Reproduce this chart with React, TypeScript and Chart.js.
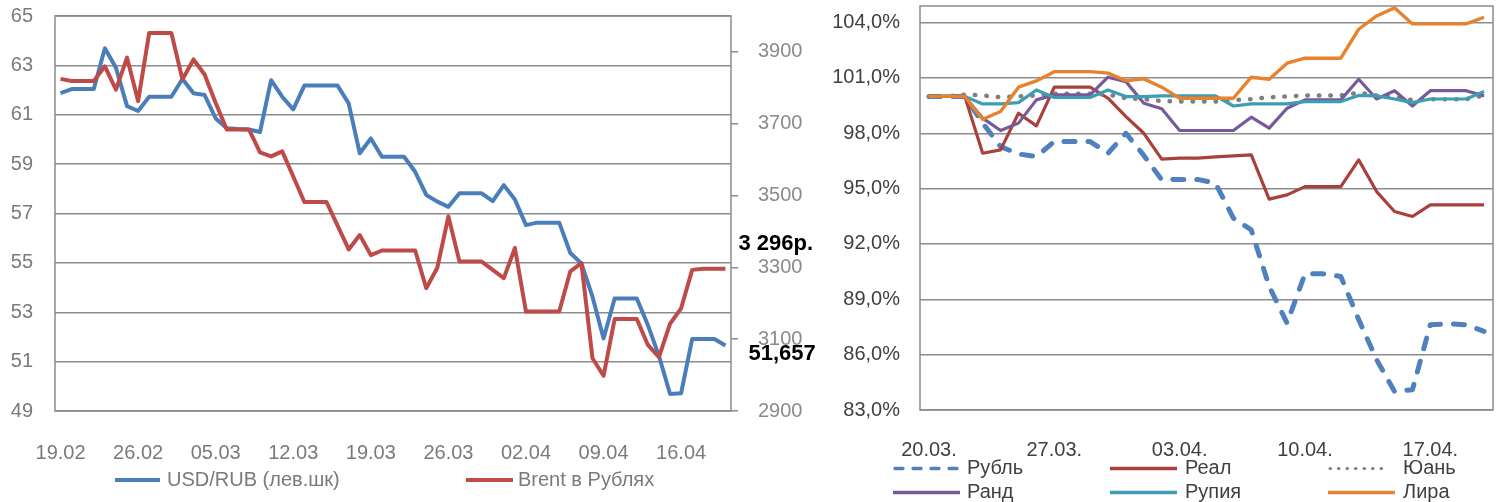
import React, { useEffect, useRef } from 'react';
import { Chart, registerables } from 'chart.js';

Chart.register(...registerables);

// ---------- Left chart data ----------
const leftDates = [
  '19.02', '20.02', '21.02', '22.02', '23.02', '24.02', '25.02', '26.02', '27.02', '28.02',
  '01.03', '02.03', '03.03', '04.03', '05.03', '06.03', '07.03', '08.03', '09.03', '10.03',
  '11.03', '12.03', '13.03', '14.03', '15.03', '16.03', '17.03', '18.03', '19.03', '20.03',
  '21.03', '22.03', '23.03', '24.03', '25.03', '26.03', '27.03', '28.03', '29.03', '30.03',
  '31.03', '01.04', '02.04', '03.04', '04.04', '05.04', '06.04', '07.04', '08.04', '09.04',
  '10.04', '11.04', '12.04', '13.04', '14.04', '15.04', '16.04', '17.04', '18.04', '19.04',
  '20.04',
];
const leftTickLabels = ['19.02', '26.02', '05.03', '12.03', '19.03', '26.03', '02.04', '09.04', '16.04'];
const usdRubTicks = [49, 51, 53, 55, 57, 59, 61, 63, 65];
const brentTicks = [2900, 3100, 3300, 3500, 3700, 3900];

const usdRub = [
  61.88, 62.04, 62.04, 62.04, 63.69, 62.9, 61.35, 61.15, 61.73, 61.73,
  61.73, 62.45, 61.87, 61.8, 60.85, 60.45, 60.42, 60.4, 60.3, 62.4,
  61.73, 61.22, 62.18, 62.18, 62.18, 62.18, 61.46, 59.44, 60.04, 59.3,
  59.3, 59.3, 58.69, 57.75, 57.48, 57.27, 57.82, 57.82, 57.82, 57.5,
  58.15, 57.57, 56.53, 56.63, 56.63, 56.63, 55.4, 54.98, 53.63, 51.94,
  53.56, 53.56, 53.56, 52.48, 51.23, 49.69, 49.72, 51.92, 51.92, 51.92,
  51.657,
];
const brentRub = [
  3825, 3819, 3819, 3819, 3860, 3795, 3884, 3763, 3953, 3953,
  3953, 3823, 3879, 3837, 3758, 3684, 3684, 3684, 3620, 3609,
  3623, 3553, 3482, 3482, 3482, 3416, 3350, 3390, 3334, 3347,
  3347, 3347, 3347, 3242, 3299, 3442, 3316, 3316, 3316, 3293,
  3270, 3354, 3177, 3177, 3177, 3177, 3289, 3312, 3047, 2998,
  3156, 3156, 3156, 3084, 3050, 3143, 3186, 3293, 3296, 3296,
  3296,
];

// ---------- Right chart data ----------
const rightDates = [
  '20.03.', '21.03.', '22.03.', '23.03.', '24.03.', '25.03.', '26.03.', '27.03.', '28.03.', '29.03.',
  '30.03.', '31.03.', '01.04.', '02.04.', '03.04.', '04.04.', '05.04.', '06.04.', '07.04.', '08.04.',
  '09.04.', '10.04.', '11.04.', '12.04.', '13.04.', '14.04.', '15.04.', '16.04.', '17.04.', '18.04.',
  '19.04.', '20.04.',
];
const rightTickLabels = ['20.03.', '27.03.', '03.04.', '10.04.', '17.04.'];
const pctTicks = [83, 86, 89, 92, 95, 98, 101, 104];

const rub = [
  100, 100, 100, 98.55, 97.28, 96.88, 96.74, 97.55, 97.55, 97.55,
  96.92, 98.0, 96.8, 95.48, 95.5, 95.5, 95.3, 93.4, 92.76, 89.7,
  87.71, 90.38, 90.38, 90.24, 87.9, 85.73, 84.0, 84.1, 87.62, 87.68,
  87.62, 87.26,
];
const real = [
  100, 100, 100, 96.92, 97.1, 99.09, 98.4, 100.5, 100.5, 100.5,
  99.9, 98.9, 98.0, 96.6, 96.65, 96.65, 96.72, 96.78, 96.83, 94.43,
  94.66, 95.11, 95.11, 95.11, 96.56, 94.84, 93.76, 93.49, 94.12, 94.12,
  94.12, 94.12,
];
const yuan = [
  100, 100, 100.1, 100.05, 99.95, 100, 100.05, 100.15, 100.15, 100.15,
  100.1, 99.9, 99.85, 99.75, 99.72, 99.72, 99.72, 99.8, 99.85, 99.95,
  100.0, 100.05, 100.05, 100.05, 100.2, 100.05, 99.95, 99.8, 99.85, 99.85,
  99.85, 100.05,
];
const rand = [
  100, 100, 100, 98.82, 98.15, 98.55, 99.81, 100.08, 100.08, 100.08,
  101.04, 100.8, 99.63, 99.33, 98.15, 98.15, 98.15, 98.15, 98.87, 98.28,
  99.36, 99.81, 99.81, 99.81, 100.93, 99.86, 100.31, 99.48, 100.31, 100.31,
  100.31, 100.03,
];
const rupee = [
  100, 100, 100, 99.59, 99.59, 99.66, 100.35, 99.94, 99.94, 99.94,
  100.35, 99.99, 99.99, 100.03, 100.03, 100.03, 100.03, 99.48, 99.59, 99.59,
  99.59, 99.72, 99.72, 99.72, 100.05, 100.03, 99.86, 99.66, 99.86, 99.86,
  99.86, 100.26,
];
const lira = [
  100, 100, 100, 98.76, 99.18, 100.5, 100.84, 101.34, 101.34, 101.34,
  101.26, 100.85, 100.95, 100.5, 99.9, 99.9, 99.9, 99.9, 101.04, 100.93,
  101.8, 102.07, 102.07, 102.07, 103.64, 104.36, 104.8, 103.93, 103.93, 103.93,
  103.93, 104.29,
];

// ---------- styling ----------
const FONT = "'Liberation Sans', Arial, sans-serif";
const GRID = '#8c8c8c';
const LEFT_TEXT = '#7a7a7a';
const RIGHT_TEXT = '#404040';

const framePlugin = {
  id: 'frame',
  beforeDatasetsDraw(chart: any, _a: any, opts: any) {
    const { ctx, chartArea: a } = chart;
    ctx.save();
    ctx.strokeStyle = opts.color;
    ctx.lineWidth = opts.width;
    ctx.strokeRect(a.left, a.top, a.right - a.left, a.bottom - a.top);
    ctx.restore();
  },
};

const legendPlugin = {
  id: 'gridLegend',
  afterDraw(chart: any, _a: any, opts: any) {
    const ctx = chart.ctx;
    (opts.items || []).forEach((it: any) => {
      const ds = chart.data.datasets[it.dataset];
      ctx.save();
      ctx.strokeStyle = ds.borderColor;
      ctx.lineWidth = it.lineWidth;
      ctx.setLineDash(it.dash || []);
      ctx.lineCap = it.cap || 'butt';
      ctx.beginPath();
      ctx.moveTo(it.x0, it.y);
      ctx.lineTo(it.x1, it.y);
      ctx.stroke();
      ctx.setLineDash([]);
      ctx.fillStyle = opts.color;
      ctx.font = opts.font;
      ctx.textAlign = 'left';
      ctx.textBaseline = 'middle';
      ctx.fillText(ds.label, it.tx, it.y);
      ctx.restore();
    });
  },
};

const endLabelPlugin = {
  id: 'endLabels',
  afterDatasetsDraw(chart: any, _a: any, opts: any) {
    const ctx = chart.ctx;
    (opts.items || []).forEach((it: any) => {
      const meta = chart.getDatasetMeta(it.dataset);
      const data = chart.data.datasets[it.dataset].data;
      const pt = meta.data[data.length - 1];
      const v = data[data.length - 1];
      ctx.save();
      ctx.fillStyle = '#000';
      ctx.font = opts.font;
      ctx.textAlign = 'left';
      ctx.textBaseline = 'middle';
      ctx.fillText(it.format(v), pt.x + it.dx, pt.y + it.dy);
      ctx.restore();
    });
  },
};

function fixWidth(w: number) {
  return (s: any) => {
    s.width = w;
    s.paddingTop = 0;
    s.paddingBottom = 0;
    s.paddingLeft = 0;
    s.paddingRight = 0;
  };
}
function fixHeight(h: number) {
  return (s: any) => {
    s.height = h;
    s.paddingTop = 0;
    s.paddingBottom = 0;
    s.paddingLeft = 0;
    s.paddingRight = 0;
  };
}

function LeftChart() {
  const ref = useRef<HTMLCanvasElement>(null);
  useEffect(() => {
    const tickFont = { family: FONT, size: 20 };
    const chart = new Chart(ref.current as HTMLCanvasElement, {
      type: 'line',
      data: {
        labels: leftDates,
        datasets: [
          {
            label: 'USD/RUB (лев.шк)',
            data: usdRub,
            borderColor: '#4a7ebb',
            backgroundColor: '#4a7ebb',
            borderWidth: 4,
            pointRadius: 0,
            tension: 0,
            borderJoinStyle: 'round',
            yAxisID: 'y',
            order: 1,
          },
          {
            label: 'Brent в Рублях',
            data: brentRub,
            borderColor: '#be4b48',
            backgroundColor: '#be4b48',
            borderWidth: 4,
            pointRadius: 0,
            tension: 0,
            borderJoinStyle: 'round',
            yAxisID: 'y2',
            order: 0,
          },
        ],
      },
      options: {
        responsive: false,
        animation: false,
        events: [],
        layout: { padding: { top: 16, left: 0, right: 0, bottom: 0 } },
        plugins: {
          legend: { display: false },
          tooltip: { enabled: false },
          frame: { color: GRID, width: 1.5 },
          gridLegend: {
            color: LEFT_TEXT,
            font: `20px ${FONT}`,
            items: [
              { dataset: 0, x0: 115, x1: 160, tx: 167, y: 480, lineWidth: 4 },
              { dataset: 1, x0: 466, x1: 513, tx: 518, y: 480, lineWidth: 4 },
            ],
          },
          endLabels: {
            font: `bold 22px ${FONT}`,
            items: [
              {
                dataset: 1, dx: 13, dy: -25,
                format: (v: number) => {
                  const r = Math.round(v);
                  return `${Math.floor(r / 1000)} ${String(r % 1000).padStart(3, '0')}р.`;
                },
              },
              { dataset: 0, dx: 23, dy: 9, format: (v: number) => v.toFixed(3).replace('.', ',') },
            ],
          },
        } as any,
        scales: {
          x: {
            type: 'category',
            offset: true,
            grid: { display: false, drawTicks: false },
            border: { display: false },
            ticks: {
              autoSkip: false,
              maxRotation: 0,
              minRotation: 0,
              padding: 30,
              color: LEFT_TEXT,
              font: tickFont,
              callback: (_v: any, i: number) => (leftTickLabels.includes(leftDates[i]) ? leftDates[i] : ''),
            },
            afterFit: fixHeight(91),
          },
          y: {
            position: 'left',
            min: 49,
            max: 65,
            grid: { color: GRID, lineWidth: 1.5, drawTicks: false },
            border: { display: false },
            ticks: { padding: 22, color: LEFT_TEXT, font: tickFont, callback: (v: any) => String(v) },
            afterBuildTicks: (s: any) => { s.ticks = usdRubTicks.map((v) => ({ value: v })); },
            afterFit: fixWidth(55),
          },
          y2: {
            position: 'right',
            min: 2900,
            max: 4000,
            grid: { drawOnChartArea: false, drawTicks: true, tickLength: 7, color: GRID, lineWidth: 1.5 },
            border: { display: false },
            ticks: { padding: 20, color: '#8a8a8a', font: tickFont, callback: (v: any) => String(v) },
            afterBuildTicks: (s: any) => { s.ticks = brentTicks.map((v) => ({ value: v })); },
            afterFit: fixWidth(89),
          },
        } as any,
      },
      plugins: [framePlugin, legendPlugin, endLabelPlugin],
    } as any);
    return () => chart.destroy();
  }, []);
  return <canvas ref={ref} width={820} height={502} style={{ display: 'block', width: 820, height: 502 }} />;
}

function RightChart() {
  const ref = useRef<HTMLCanvasElement>(null);
  useEffect(() => {
    const tickFont = { family: FONT, size: 20 };
    const common = { pointRadius: 0, tension: 0, borderJoinStyle: 'round' };
    const chart = new Chart(ref.current as HTMLCanvasElement, {
      type: 'line',
      data: {
        labels: rightDates,
        datasets: [
          { ...common, label: 'Рубль', data: rub, borderColor: '#4f81bd', borderWidth: 5, borderDash: [11, 13], borderCapStyle: 'round', order: 5 },
          { ...common, label: 'Реал', data: real, borderColor: '#a9403c', borderWidth: 3.2, order: 4 },
          { ...common, label: 'Юань', data: yuan, borderColor: '#7f7f7f', borderWidth: 4.5, borderDash: [0.5, 11], borderCapStyle: 'round', order: 3 },
          { ...common, label: 'Ранд', data: rand, borderColor: '#775a9a', borderWidth: 3.2, order: 2 },
          { ...common, label: 'Рупия', data: rupee, borderColor: '#3d9db4', borderWidth: 3.2, order: 1 },
          { ...common, label: 'Лира', data: lira, borderColor: '#e8822e', borderWidth: 3.4, order: 0 },
        ],
      },
      options: {
        responsive: false,
        animation: false,
        events: [],
        layout: { padding: { top: 6, left: 0, right: 8, bottom: 0 } },
        plugins: {
          legend: { display: false },
          tooltip: { enabled: false },
          frame: { color: GRID, width: 1.5 },
          gridLegend: {
            color: RIGHT_TEXT,
            font: `20px ${FONT}`,
            items: [
              { dataset: 0, x0: 75, x1: 138, tx: 147, y: 468.5, lineWidth: 3.3, dash: [8, 10], cap: 'round' },
              { dataset: 1, x0: 290, x1: 357, tx: 365, y: 468.5, lineWidth: 3.3 },
              { dataset: 2, x0: 510, x1: 567, tx: 583, y: 468.5, lineWidth: 3, dash: [0.5, 8], cap: 'round' },
              { dataset: 3, x0: 73, x1: 140, tx: 147, y: 492.5, lineWidth: 3.3 },
              { dataset: 4, x0: 290, x1: 357, tx: 365, y: 492.5, lineWidth: 3.3 },
              { dataset: 5, x0: 508, x1: 575, tx: 583, y: 492.5, lineWidth: 3.3 },
            ],
          },
        } as any,
        scales: {
          x: {
            type: 'category',
            offset: true,
            grid: { display: false, drawTicks: false },
            border: { display: false },
            ticks: {
              autoSkip: false,
              maxRotation: 0,
              minRotation: 0,
              padding: 28,
              color: RIGHT_TEXT,
              font: tickFont,
              callback: (_v: any, i: number) => (rightTickLabels.includes(rightDates[i]) ? rightDates[i] : ''),
            },
            afterFit: fixHeight(92),
          },
          y: {
            position: 'left',
            min: 83,
            max: 104.9,
            grid: { color: GRID, lineWidth: 1.5, drawTicks: false },
            border: { display: false },
            ticks: {
              padding: 20,
              color: RIGHT_TEXT,
              font: tickFont,
              callback: (v: any) => Number(v).toFixed(1).replace('.', ',') + '%',
            },
            afterBuildTicks: (s: any) => { s.ticks = pctTicks.map((v) => ({ value: v })); },
            afterFit: fixWidth(100),
          },
        } as any,
      },
      plugins: [framePlugin, legendPlugin],
    } as any);
    return () => chart.destroy();
  }, []);
  return <canvas ref={ref} width={681} height={502} style={{ display: 'block', width: 681, height: 502 }} />;
}

export default function App() {
  return (
    <div style={{ position: 'absolute', left: 0, top: 0, width: 1501, height: 502, background: '#fff', overflow: 'hidden' }}>
      <div style={{ position: 'absolute', left: 0, top: 0, width: 820, height: 502 }}>
        <LeftChart />
      </div>
      <div style={{ position: 'absolute', left: 820, top: 0, width: 681, height: 502 }}>
        <RightChart />
      </div>
    </div>
  );
}
